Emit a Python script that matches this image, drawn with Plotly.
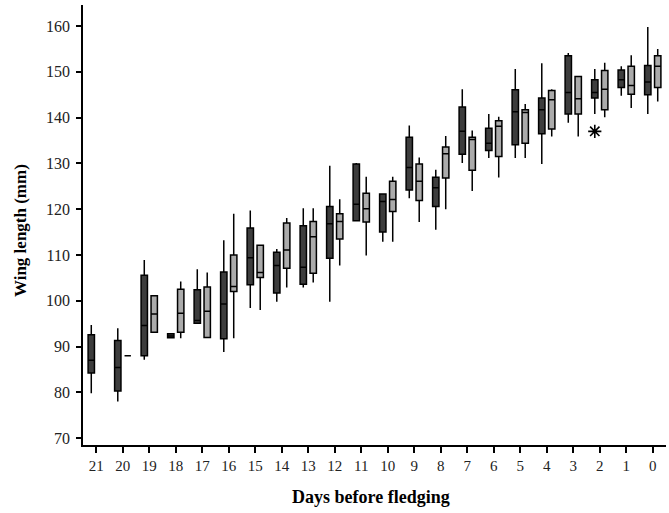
import plotly.graph_objects as go

days = [str(d) for d in range(21, -1, -1)]

# Dark series (left box of each pair)
dark_days = days
dark_q1 = [84.2, 80.3, 88.0, 91.9, 95.1, 91.7, 103.5, 101.7, 103.6, 109.3, 117.5, 115.0,
           124.2, 120.6, 132.0, 132.8, 134.1, 136.5, 140.8, 144.3, 146.6, 145.0]
dark_med = [87.0, 85.4, 94.6, 92.3, 95.7, 99.3, 109.4, 107.7, 107.3, 116.8, 121.1, 121.7,
            129.1, 124.7, 137.0, 134.4, 141.3, 141.7, 145.5, 145.5, 148.3, 147.8]
dark_q3 = [92.6, 91.3, 105.6, 92.8, 102.4, 106.3, 115.9, 110.6, 116.4, 120.6, 129.9, 123.3,
           135.7, 127.0, 142.3, 137.7, 146.1, 144.3, 153.5, 148.3, 150.4, 151.4]
dark_lo = [79.8, 78.0, 87.1, 91.9, 95.1, 88.8, 98.4, 99.8, 102.9, 99.8, 117.5, 112.9,
           122.4, 115.5, 130.1, 131.2, 131.2, 129.9, 138.9, 140.8, 144.8, 140.8]
dark_hi = [94.7, 94.0, 108.9, 92.8, 106.9, 113.2, 119.7, 111.3, 120.2, 129.5, 130.1, 123.5,
           138.3, 128.6, 146.2, 140.8, 150.6, 151.9, 154.1, 150.6, 151.2, 159.8]

# Outlier of the dark series
outlier_day = ["2"]
outlier_val = [137.0]

# Light series (right box of each pair; none on day 21)
light_days = days[1:]
light_q1 = [88.0, 93.1, 93.1, 92.0, 102.0, 105.1, 107.1, 106.0, 113.5, 117.2, 119.5,
            121.9, 126.8, 128.5, 131.5, 134.4, 137.5, 140.8, 141.7, 145.1, 146.6]
light_med = [88.0, 97.1, 97.3, 97.7, 103.1, 106.2, 111.1, 114.0, 117.3, 120.1, 122.1,
             126.1, 132.1, 135.2, 138.1, 141.1, 143.9, 144.1, 146.2, 147.0, 151.2]
light_q3 = [88.0, 101.1, 102.5, 103.0, 110.0, 112.1, 117.0, 117.3, 119.0, 123.5, 126.1,
            129.9, 133.6, 135.7, 139.3, 141.7, 145.9, 149.0, 150.3, 151.2, 153.5]
light_lo = [88.0, 93.1, 91.8, 92.0, 91.8, 98.0, 102.9, 104.0, 107.7, 109.9, 112.9,
            117.2, 120.0, 124.0, 126.9, 131.2, 135.9, 135.9, 140.1, 142.1, 143.5]
light_hi = [88.0, 101.1, 104.2, 106.2, 119.0, 112.1, 118.1, 120.2, 122.2, 127.1, 127.1,
            131.3, 136.0, 137.2, 140.2, 143.0, 146.2, 149.0, 152.0, 153.6, 155.0]

y_ticks = [70, 80, 90, 100, 110, 120, 130, 140, 150, 160]

serif = "Liberation Serif, Times New Roman, serif"

fig = go.Figure()
fig.add_trace(go.Box(
    x=dark_days, q1=dark_q1, median=dark_med, q3=dark_q3,
    lowerfence=dark_lo, upperfence=dark_hi,
    boxpoints=False, offsetgroup="dark",
    fillcolor="#3d3d3d", line=dict(color="black", width=1.5),
    whiskerwidth=0, name="dark", showlegend=False, hoverinfo="skip",
))
fig.add_trace(go.Box(
    x=light_days, q1=light_q1, median=light_med, q3=light_q3,
    lowerfence=light_lo, upperfence=light_hi,
    boxpoints=False, offsetgroup="light",
    fillcolor="#ababab", line=dict(color="black", width=1.5),
    whiskerwidth=0, name="light", showlegend=False, hoverinfo="skip",
))
# outlier point drawn at the dark box position (box itself invisible)
fig.add_trace(go.Box(
    x=outlier_day, y=outlier_val, offsetgroup="dark",
    boxpoints="all", jitter=0, pointpos=0,
    fillcolor="rgba(0,0,0,0)", line=dict(color="rgba(0,0,0,0)", width=0),
    marker=dict(symbol="asterisk-open", size=11, color="black",
                line=dict(color="black", width=1.6)),
    name="outlier", showlegend=False, hoverinfo="skip",
))

plot_w = 669 - 83 - 3
plot_h = 513 - 5 - 68

fig.update_layout(
    width=669, height=513,
    margin=dict(l=83, r=3, t=5, b=68, autoexpand=False),
    plot_bgcolor="white", paper_bgcolor="white",
    boxmode="group", boxgap=0.25, boxgroupgap=0.36,
    font=dict(family=serif, color="black", size=15),
    xaxis=dict(
        type="category", categoryorder="array", categoryarray=days,
        range=[-0.5, 21.5],
        showline=True, linecolor="black", linewidth=1.6,
        ticks="outside", ticklen=6, tickwidth=1.5, tickcolor="black",
        showgrid=False, zeroline=False,
        tickfont=dict(family=serif, size=15, color="#222"),
    ),
    yaxis=dict(
        range=[68.5, 164.6], tickvals=y_ticks,
        showline=True, linecolor="black", linewidth=1.6,
        ticks="outside", ticklen=5, tickwidth=1.5, tickcolor="black",
        ticklabelstandoff=3,
        showgrid=False, zeroline=False,
        tickfont=dict(family=serif, size=16, color="#222"),
    ),
    annotations=[
        dict(text="<b>Days before fledging</b>", xref="paper", yref="paper",
             x=(371 - 83) / plot_w, y=-(497 - 445) / plot_h,
             xanchor="center", yanchor="middle", showarrow=False,
             font=dict(family=serif, size=18, color="black")),
        dict(text="<b>Wing length (mm)</b>", xref="paper", yref="paper",
             x=-(83 - 20) / plot_w, y=(445 - 231) / plot_h, textangle=-90,
             xanchor="center", yanchor="middle", showarrow=False,
             font=dict(family=serif, size=17, color="black")),
    ],
)

fig.write_html("out.html", config={"displayModeBar": False},
               post_script="document.body.style.margin='0px';")
